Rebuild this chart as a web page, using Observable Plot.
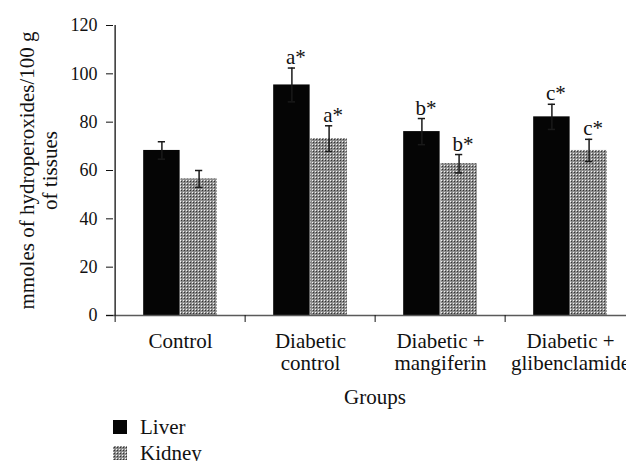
<!DOCTYPE html>
<html>
<head>
<meta charset="utf-8">
<script src="https://cdn.jsdelivr.net/npm/d3@7"></script>
<script src="https://cdn.jsdelivr.net/npm/@observablehq/plot@0.6"></script>
<style>
  html, body { margin: 0; padding: 0; background: #fff; overflow: hidden; }
  #wrap { width: 626px; height: 461px; overflow: hidden; position: relative; font-family: 'Liberation Serif', serif; }
  #chart svg { max-width: none !important; font-family: 'Liberation Serif', serif !important; }
  #chart svg text { font-family: 'Liberation Serif', serif !important; }
  #legend { position: absolute; left: 113px; top: 414px; font-size: 21px; color: #111; }
  .row { display: flex; align-items: center; height: 26px; }
  .sw { width: 14px; height: 14px; margin-right: 13px; }
</style>
</head>
<body>
<div id="wrap">
  <div id="chart"></div>
  <div id="legend"></div>
</div>
<script>
const groups = ["Control", "Diabetic control", "Diabetic + mangiferin", "Diabetic + glibenclamide"];
const groupLabels = ["Control", "Diabetic\ncontrol", "Diabetic +\nmangiferin", "Diabetic +\nglibenclamide"];
const series = ["Liver", "Kidney"];
const liver = [68.3, 95.4, 76.1, 82.2];
const liverErr = [3.6, 7.0, 5.4, 5.2];
const kidney = [56.5, 73.2, 62.8, 68.3];
const kidneyErr = [3.5, 5.3, 3.8, 4.6];
const liverSig = ["", "a*", "b*", "c*"];
const kidneySig = ["", "a*", "b*", "c*"];
const yTicks = [0, 20, 40, 60, 80, 100, 120];
const yTitle = "mmoles of hydroperoxides/100 g\nof tissues";
const xTitle = "Groups";

const W = 650, H = 410, ML = 113, MR = 14, MT = 25, MB = 95;
const step = (W - ML - MR) / groups.length;
const bw = 37.2;     // bar width in px
const cap = 4;       // half cap width

const rows = [];
groups.forEach((g, i) => {
  rows.push({group: g, series: "Liver", value: liver[i], err: liverErr[i], sig: liverSig[i]});
  rows.push({group: g, series: "Kidney", value: kidney[i], err: kidneyErr[i], sig: kidneySig[i]});
});
const L = rows.filter(d => d.series === "Liver");
const K = rows.filter(d => d.series === "Kidney");
const labelOf = Object.fromEntries(groups.map((g, i) => [g, groupLabels[i]]));

function seriesMarks(data, side, fill) {
  const c = side * bw / 2; // offset of bar centre from band centre
  const inL = side < 0 ? step / 2 - bw : step / 2;
  const inR = side < 0 ? step / 2 : step / 2 - bw;
  return [
    Plot.barY(data, {x: "group", y: "value", fill, insetLeft: inL, insetRight: inR}),
    Plot.ruleX(data, {x: "group", y1: d => d.value - d.err, y2: d => d.value + d.err, dx: c, stroke: "#1a1a1a", strokeWidth: 1.5}),
    Plot.tickY(data, {x: "group", y: d => d.value + d.err, insetLeft: step / 2 + c - cap, insetRight: step / 2 - c - cap, stroke: "#1a1a1a", strokeWidth: 1.5}),
    Plot.tickY(data, {x: "group", y: d => d.value - d.err, insetLeft: step / 2 + c - cap, insetRight: step / 2 - c - cap, stroke: "#1a1a1a", strokeWidth: 1.5}),
    Plot.text(data, {x: "group", y: d => d.value + d.err, text: "sig", dx: c + 4, dy: -4, lineAnchor: "bottom", fontSize: 21, fill: "#111"})
  ];
}

const plot = Plot.plot({
  width: W, height: H,
  marginLeft: ML, marginRight: MR, marginTop: MT, marginBottom: MB,
  style: {fontFamily: "'Liberation Serif', serif", fontSize: "21px", color: "#111", background: "transparent", maxWidth: "none"},
  x: {type: "band", domain: groups, padding: 0},
  y: {domain: [0, 120]},
  marks: [
    ...seriesMarks(L, -1, "#050505"),
    ...seriesMarks(K, 1, "url(#kidPat)"),
    Plot.ruleY([0], {stroke: "#5a5a5a", strokeWidth: 1.6, insetLeft: -7, insetRight: -20}),
    Plot.ruleX([groups[0]], {y1: 0, y2: 120, dx: -step / 2, stroke: "#111", strokeWidth: 1.3}),
    Plot.axisY({ticks: yTicks, tickSize: 7, tickPadding: 9, fontSize: 18, label: null, stroke: "#111"}),
    Plot.axisX({tickSize: 7, dx: -step / 2, tickFormat: () => "", label: null, stroke: "#111"}),
    Plot.axisX({tickSize: 0, tickPadding: 17, tickFormat: d => labelOf[d], fontSize: 21, lineHeight: 1.05, label: null}),
    Plot.text([xTitle], {frameAnchor: "bottom", lineAnchor: "middle", dy: 82, fontSize: 21, fill: "#111"}),
    Plot.text([yTitle], {frameAnchor: "left", textAnchor: "middle", lineAnchor: "middle", rotate: -90, dx: -75.5, fontSize: 21, lineHeight: 1.1, fill: "#111"})
  ]
});

const ns = "http://www.w3.org/2000/svg";
function addPattern(svg) {
  const defs = document.createElementNS(ns, "defs");
  defs.innerHTML = '<pattern id="kidPat" width="3" height="3" patternUnits="userSpaceOnUse">' +
    '<rect width="3" height="3" fill="#8c8c8c"/>' +
    '<rect x="0" y="0" width="1" height="1" fill="#f4f4f4"/>' +
    '<rect x="1" y="1" width="1" height="1" fill="#333"/></pattern>';
  svg.insertBefore(defs, svg.firstChild);
}
addPattern(plot);
document.getElementById("chart").appendChild(plot);

const legend = document.getElementById("legend");
series.forEach(s => {
  const row = document.createElement("div");
  row.className = "row";
  const sw = document.createElementNS(ns, "svg");
  sw.setAttribute("class", "sw");
  sw.setAttribute("width", 14); sw.setAttribute("height", 14);
  const r = document.createElementNS(ns, "rect");
  r.setAttribute("width", 14); r.setAttribute("height", 14);
  r.setAttribute("fill", s === "Liver" ? "#050505" : "url(#kidPat)");
  sw.appendChild(r);
  row.appendChild(sw);
  const t = document.createElement("span");
  t.textContent = s;
  row.appendChild(t);
  legend.appendChild(row);
});
</script>
</body>
</html>
